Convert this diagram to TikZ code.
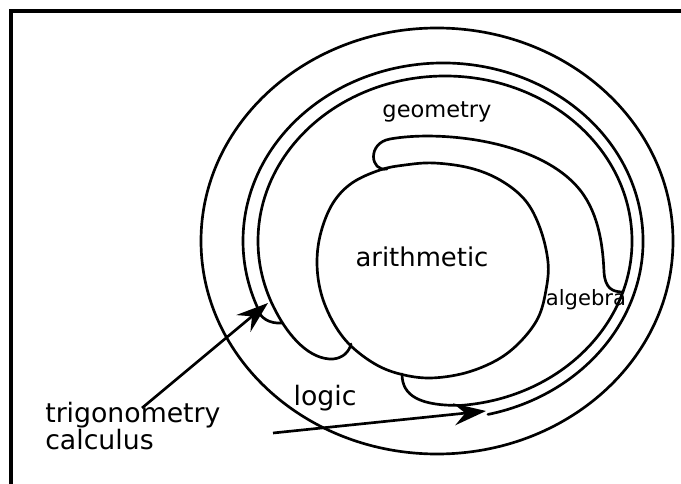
\documentclass[tikz,border=0pt]{standalone}
\usepackage{fontspec}
\setmainfont{DejaVu Sans}
\usetikzlibrary{arrows.meta}

\tikzset{
  ring/.style={line width=1.9pt, line cap=round, line join=round},
  word/.style={anchor=base, inner sep=0pt},
  pointer/.style={line width=1.9pt, -{Stealth[length=8mm, width=5.5mm, inset=2.8mm]}},
}

\begin{document}
\begin{tikzpicture}[x=0.025cm, y=-0.025cm]
  \useasboundingbox (0,0) rectangle (681,484);

  % frame, open at right and bottom
  \draw[line width=2.6pt] (11,484) -- (11,11) -- (681,11);

  % outer ring
  \draw[ring] (437,241) ellipse [x radius=236, y radius=213];

  % outer line of the double ring, hooked at its left end
  \draw[ring] ([shift={(77:200 and 178)}]443,241)
    arc[start angle=77, end angle=-202, x radius=200, y radius=178]
    .. controls (259,318) and (270,324) .. (282,323);

  % inner line of the double ring, with the two lower lobes
  \draw[ring] (402,374) .. controls (402,396) and (420,406) .. ([shift={(85:187 and 165)}]445,241)
    arc[start angle=85, end angle=-205, x radius=187, y radius=165]
    .. controls (289,337) and (310,360) .. (333,359)
    .. controls (343,358) and (349,352) .. (351,344);

  % geometry lobe
  \draw[ring] (387,169) .. controls (370,172) and (367,143) .. (390,139)
    .. controls (440,130) and (540,140) .. (580,190)
    .. controls (600,215) and (603,250) .. (604,272)
    .. controls (605,288) and (612,292) .. (623,292);

  % arithmetic
  \draw[ring] plot[smooth cycle, tension=0.6] coordinates {(434,163) (470,168) (500,180)
    (525,200) (540,228) (548,262) (546,290) (538,318) (520,342) (497,360) (465,373)
    (430,378) (400,374) (375,364) (350,345) (333,322) (321,293) (317,262) (321,232)
    (333,203) (352,183) (380,170) (405,165)};

  % labels
  \node[word, font=\fontsize{18.4}{20}\selectfont] (arith) at (422,267) {arithmetic};
  \node[word, font=\fontsize{16}{18}\selectfont] (geom) at (437,118) {geometry};
  \node[word, font=\fontsize{15}{17}\selectfont] (alg) at (586,305) {algebra};
  \node[word, font=\fontsize{19}{20}\selectfont] (logic) at (325,405) {logic};
  \node[word, anchor=north west, align=left, font=\fontsize{19}{17}\selectfont] (trigcalc)
    at (45,402) {trigonometry\\calculus};

  % pointers into the double ring
  \coordinate (trigfrom) at (142,408);
  \coordinate (trigto) at (268,303);
  \coordinate (calcfrom) at (273,433);
  \coordinate (calcto) at (486,411);
  \draw[pointer] (trigfrom) -- (trigto);
  \draw[pointer] (calcfrom) -- (calcto);
\end{tikzpicture}
\end{document}
